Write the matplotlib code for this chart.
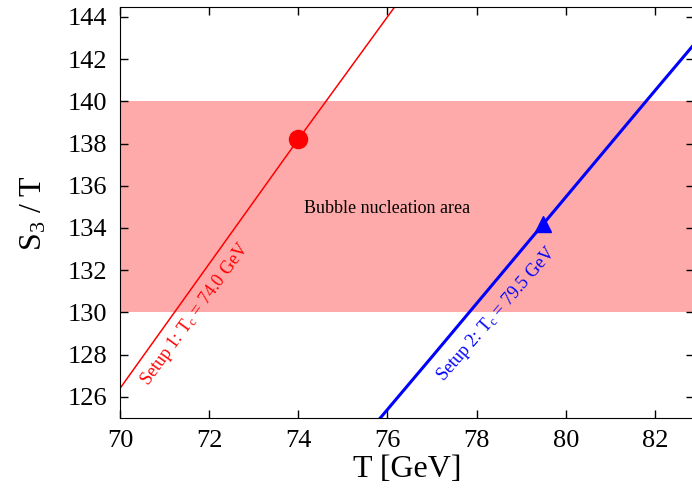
import matplotlib
matplotlib.use("Agg")
import matplotlib.pyplot as plt


setup1_T = [70.0, 72.0, 74.0, 76.0, 77.0]
setup1_S = [126.4, 132.3, 138.2, 144.0, 146.9]
setup2_T = [75.0, 77.0, 79.5, 82.0, 84.0]
setup2_S = [122.9, 127.9, 134.2, 140.5, 145.5]

Tc_points = [74.0, 79.5]
S_at_Tc = [138.2, 134.2]

band_low, band_high = 130.0, 140.0

x_ticks = [70, 72, 74, 76, 78, 80, 82]
y_ticks = [126, 128, 130, 132, 134, 136, 138, 140, 142, 144]

plt.rcParams["font.family"] = "Liberation Serif"
plt.rcParams["mathtext.fontset"] = "custom"
plt.rcParams["mathtext.rm"] = "Liberation Serif"
plt.rcParams["mathtext.it"] = "Liberation Serif:italic"

fig = plt.figure(figsize=(6.92, 4.91), dpi=100)
ax = fig.add_axes([0.1734, 0.1487, 0.8296, 0.8363])

ax.axhspan(band_low, band_high, color="#ffaaaa", lw=0, zorder=0)

ax.plot(setup1_T, setup1_S, color="red", lw=1.1, zorder=2)
ax.plot(setup2_T, setup2_S, color="blue", lw=2.2, zorder=2)
ax.plot(Tc_points[0], S_at_Tc[0], "o", color="red", ms=13, zorder=3)
ax.plot(Tc_points[1], S_at_Tc[1], "^", color="blue", ms=12, zorder=3)

ax.text(76.0, 134.9, "Bubble nucleation area", fontsize=13,
        ha="center", va="center")
ax.text(71.69, 129.9, r"Setup 1: T$_\mathrm{c}$ = 74.0 GeV", fontsize=13,
        color="red", rotation=54, ha="center", va="center",
        rotation_mode="anchor")
ax.text(78.45, 129.94, r"Setup 2: T$_\mathrm{c}$ = 79.5 GeV", fontsize=13,
        color="blue", rotation=49, ha="center", va="center",
        rotation_mode="anchor")

ax.set_xlim(70, 82.88)
ax.set_ylim(125, 144.45)
ax.set_xticks(x_ticks)
ax.set_yticks(y_ticks)
ax.tick_params(direction="in", top=True, right=True, length=6, width=1,
               labelsize=19, pad=9)
ax.spines["right"].set_visible(False)

ax.set_xlabel("T [GeV]", fontsize=23, labelpad=2)
ax.set_ylabel(r"S$_3$ / T", fontsize=23, labelpad=14)

fig.savefig("out.png", dpi=100)
